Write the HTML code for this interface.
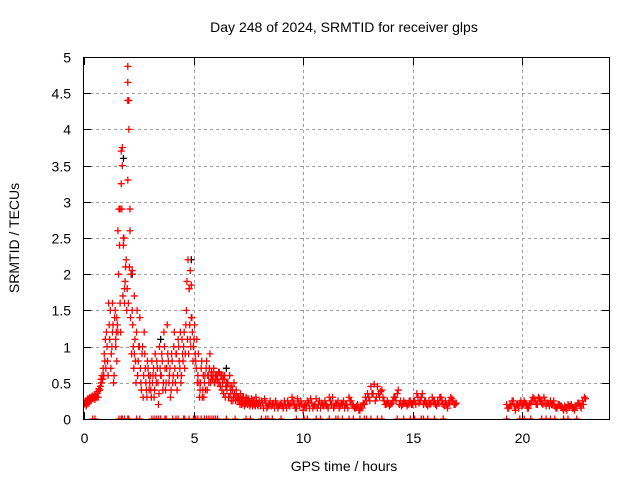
<!DOCTYPE html>
<html><head><meta charset="utf-8"><style>
body{margin:0;background:#fff;}
svg{display:block;font-family:"Liberation Sans",sans-serif;}
</style></head><body>
<svg id="chart" width="640" height="480" viewBox="0 0 640 480">
<text x="344" y="32" font-size="14" text-anchor="middle">Day 248 of 2024, SRMTID for receiver glps</text>
<text x="344" y="471" font-size="14" text-anchor="middle">GPS time / hours</text>
<text transform="translate(19,238) rotate(-90)" font-size="14" text-anchor="middle">SRMTID / TECUs</text>
<g id="grid"></g>
<g id="axes"></g>
<defs><clipPath id="pc"><rect x="83" y="57" width="526" height="362"/></clipPath></defs>
<g id="marks" clip-path="url(#pc)"></g>
<rect x="83.5" y="57.5" width="526" height="362" fill="none" stroke="#000" stroke-width="1"/>
</svg>
<script>
const xTicks=[0,5,10,15,20];
const yTicks=[0,0.5,1,1.5,2,2.5,3,3.5,4,4.5,5];
const yTickLabels=["0","0.5","1","1.5","2","2.5","3","3.5","4","4.5","5"];
const seg1Start=0, seg1Step=0.05;
const seg1Values=[.2,.22,.18,.25,.22,.27,.25,.3,.28,.3,.27,
.3,.35,.3,.4,.45,.5,.55,.6,.8,.7,
1.0,.6,1.3,1.5,.9,1.2,.5,1.4,1.1,.8,
2.6,2.9,1.6,3.7,3.5,2.4,1.8,2.1,1.5,4.87,
4.4,2.9,2.0,1.5,1.0,1.7,.8,1.2,.6,1.0,
1.4,.5,.9,.3,1.2,.7,.4,.8,.6,.5,
.4,.8,.6,.3,.9,.5,.7,.2,1.0,.6,
.9,.4,1.2,.7,.5,1.3,.8,.6,.3,.9,
.5,1.0,.7,.9,.4,1.1,.8,1.2,.6,.9,
1.0,.7,1.3,1.9,2.2,1.8,1.1,1.4,1.2,1.0,
1.3,.8,1.1,.6,.5,.4,.7,.3,.6,.5,
.4,.8,.6,.5,.9,.6,.55,.6,.5,.6,
.6,.55,.65,.5,.6,.4,.6,.55,.3,.5,
.5,.3,.6,.35,.45,.25,.5,.3,.4,.3,
.3,.25,.35,.2,.3,.25,.2,.3,.22,.28,
.22,.2,.28,.18,.25,.2,.3,.22,.18,.25];
const seg1BStart=0.025;
const seg1BValues=[.22,.25,.2,.28,.25,.3,.27,.32,.3,.33,
.32,.3,.38,.42,.4,.55,.6,.7,.9,1.1,
1.2,.8,1.6,1.1,.7,1.0,1.3,.6,1.5,1.2,
1.3,2.0,2.4,1.2,2.9,1.7,2.5,1.9,2.2,1.8,
1.6,2.1,1.4,.9,1.3,.7,1.1,.5,1.5,.8,
1.0,.7,.4,1.0,.6,.9,.5,.3,.7,.4,
.6,.3,.5,.7,.4,.6,.8,.5,.35,.7,
.6,.8,.5,1.0,.4,.7,.9,.5,.7,.4,
.8,.6,1.2,.5,.9,.6,1.0,.7,.5,1.1,
.8,1.2,.9,1.5,1.1,.9,1.3,1.0,1.4,.8,
1.1,.9,.7,.5,.9,.3,.5,.8,.4,.3,
.6,.7,.4,.6,.7,.5,.65,.55,.7,.5,
.55,.6,.5,.65,.45,.6,.5,.35,.6,.45,
.4,.5,.3,.45,.25,.4,.3,.35,.25,.3,
.25,.3,.2,.28,.22,.3,.18,.25,.28,.2,
.25,.18,.22,.25,.2,.22,.18,.25,.2,.22];
const seg2Start=8.1, seg2Step=0.1;
const seg2Values=[.25,.15,.22,.18,.25,.2,.15,.2,.18,
.22,.15,.2,.25,.18,.3,.2,.15,.22,.25,
.12,.2,.25,.15,.22,.18,.28,.2,.15,.2,
.25,.18,.3,.2,.15,.22,.25,.18,.2,.15,
.2,.3,.25,.18,.15,.2,.12,.15,.2,.25,
.3,.45,.35,.25,.45,.3,.4,.25,.2,.22,
.2,.25,.3,.35,.2,.18,.25,.22,.2,.25,
.2,.25,.35,.22,.3,.2,.25,.18,.2,.3,
.25,.18,.22,.3,.2,.25,.15,.22,.28,.2,.22];
const seg2BStart=8.05;
const seg2BValues=[.18,.22,.28,.15,.2,.18,.22,.25,.15,.2,
.18,.25,.15,.2,.22,.25,.15,.28,.18,.2,
.18,.15,.22,.28,.15,.2,.15,.25,.22,.18,
.2,.15,.25,.3,.18,.2,.15,.22,.25,.2,
.15,.25,.2,.15,.18,.12,.18,.22,.3,.35,
.25,.35,.48,.3,.35,.38,.3,.2,.25,.18,
.22,.3,.25,.4,.25,.2,.22,.18,.25,.2,
.25,.2,.3,.25,.35,.25,.2,.25,.22,.25,
.2,.25,.3,.25,.18,.2,.22,.3,.25,.2];
const seg3Start=19.3, seg3Step=0.1;
const seg3Values=[.2,.15,.18,.25,.12,.2,.22,.18,.25,.2,.15,.22,.3,.25,.2,.28,.22,.3,.18,.22,.25,.2,.18,.15,.2,.18,.12,.15,.2,.18,.15,.12,.18,.22,.15,.2,.28];
const seg3BStart=19.35;
const seg3BValues=[.15,.2,.25,.18,.2,.15,.25,.2,.22,.15,.2,.25,.28,.2,.3,.25,.2,.25,.22,.18,.2,.25,.15,.2,.18,.15,.18,.12,.18,.2,.15,.18,.22,.18,.25,.3];
const extraTimes=[2.0,2.0,2.05,1.75,1.7,1.65,2.1,2.2,1.85,1.5,1.3,4.85,4.9,4.8,2.0,1.8,1.55,1.45,2.3];
const extraValues=[4.65,4.4,4.0,3.75,3.25,2.9,2.6,2.05,1.6,1.4,1.6,2.05,1.85,1.8,3.3,2.5,1.2,1.0,0.9];
const zeroTimes=[0.4,0.5,1.6,1.7,1.75,1.85,2.0,2.05,2.4,2.55,3.1,3.2,3.3,3.4,3.5,3.7,3.75,4.05,4.2,4.3,4.55,4.6,4.8,5.0,5.1,5.2,5.35,5.5,5.6,5.7,5.8,5.9,6.0,6.1,6.5,6.9,7.4,7.6,8.1,8.3,8.4,8.6,9.0,9.7,10.05,10.2,10.6,10.8,11.2,11.5,11.6,11.8,12.1,12.3,12.6,12.8,12.9,13.1,13.4,13.6,14.3,14.6,14.9,15.1,15.4,15.5,15.7,16.0,16.4,19.3,19.9,20.1,20.4,20.9,21.1,21.3,21.5,21.9,22.1,22.5];
const blackTimes=[1.8,4.9,2.2,3.5,6.5];
const blackValues=[3.6,2.2,2.0,1.1,0.7];

const NS="http://www.w3.org/2000/svg";
const X0=84,XPX=21.9,Y0=419,YPX=72.4;
function sx(t){return X0+t*XPX;}
function sy(v){return Y0-v*YPX;}
function mk(tag,attrs,parent){const e=document.createElementNS(NS,tag);for(const k in attrs)e.setAttribute(k,attrs[k]);parent.appendChild(e);return e;}
const grid=document.getElementById('grid'),axes=document.getElementById('axes'),marks=document.getElementById('marks');
yTicks.forEach((v,i)=>{
  const y=Math.round(sy(v))+0.5;
  if(v>0&&v<5){const g=mk('line',{x1:84,x2:609,y1:y,y2:y,stroke:'#a0a0a0','stroke-dasharray':'3,3'},grid);
  
  }
  const t1=mk('line',{x1:84,x2:91,y1:y,y2:y,stroke:'#000'},axes);
  
  
  const t2=mk('line',{x1:602,x2:609,y1:y,y2:y,stroke:'#000'},axes);
  
  
  const l=mk('text',{x:71,y:y+5,'font-size':14,'text-anchor':'end'},axes);l.textContent=yTickLabels[i];
  
  
});
xTicks.forEach(t=>{
  const x=Math.round(sx(t))+0.5;
  if(t>0){const g=mk('line',{x1:x,x2:x,y1:58,y2:419,stroke:'#a0a0a0','stroke-dasharray':'3,3'},grid);
  
  }
  const t1=mk('line',{x1:x,x2:x,y1:412,y2:419,stroke:'#000'},axes);
  
  
  const t2=mk('line',{x1:x,x2:x,y1:58,y2:65,stroke:'#000'},axes);
  
  
  const l=mk('text',{x:x,y:443,'font-size':14,'text-anchor':'middle'},axes);l.textContent=String(t);
  
  
});
function plus(t,v,color,name){
  const x=sx(t),y=sy(v);
  const p=mk('path',{d:`M${x-3.5},${y}H${x+3.5}M${x},${y-3.5}V${y+3.5}`,stroke:color,'stroke-width':1.3,fill:'none'},marks);
  
  
}
blackTimes.forEach((t,i)=>plus(t,blackValues[i],'#000','black-point'));
seg1Values.forEach((v,i)=>plus(seg1Start+i*seg1Step,v,'#ff0000','red-point'));
seg1BValues.forEach((v,i)=>plus(seg1BStart+i*seg1Step,v,'#ff0000','red-point'));
seg2Values.forEach((v,i)=>plus(seg2Start+i*seg2Step,v,'#ff0000','red-point'));
seg2BValues.forEach((v,i)=>plus(seg2BStart+i*seg2Step,v,'#ff0000','red-point'));
seg3Values.forEach((v,i)=>plus(seg3Start+i*seg3Step,v,'#ff0000','red-point'));
seg3BValues.forEach((v,i)=>plus(seg3BStart+i*seg3Step,v,'#ff0000','red-point'));
extraTimes.forEach((t,i)=>plus(t,extraValues[i],'#ff0000','red-point'));
zeroTimes.forEach(t=>plus(t,0,'#ff0000','zero-point'));
</script>
</body></html>
